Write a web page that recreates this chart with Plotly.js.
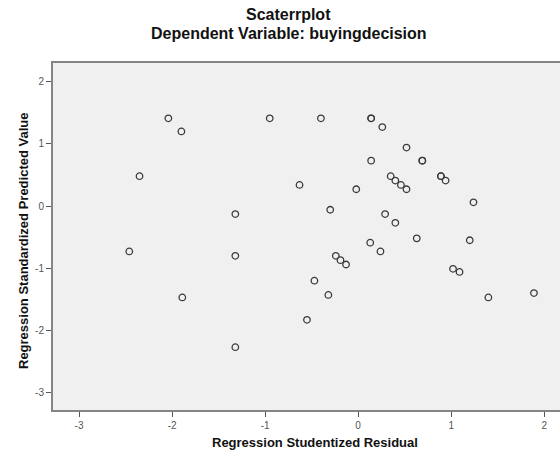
<!DOCTYPE html>
<html>
<head>
<meta charset="utf-8">
<script src="https://cdn.plot.ly/plotly-3.0.1.min.js"></script>
<style>html,body{margin:0;padding:0;background:#fff;}#chart{width:560px;height:454px;}</style>
</head>
<body>
<div id="chart"></div>
<script>
// Regression Studentized Residual (x) and Regression Standardized Predicted Value (y)
var residual = [
  -2.04, -1.90, -0.95, -2.35, -0.63, -1.32, -2.46, -1.32, -1.89, -1.32,
  -0.40, 0.14, 0.14, 0.26, 0.52, 0.14, 0.69, 0.69, 0.35, 0.40,
  0.46, 0.52, 0.89, 0.89, 0.94, -0.02, 1.24, -0.30, 0.29, 0.40,
  0.63, 1.20, 0.13, 0.24, -0.24, -0.19, -0.13, 1.02, 1.09, -0.47,
  -0.32, 1.40, 1.89, -0.55
];
var predicted = [
  1.41, 1.20, 1.41, 0.48, 0.34, -0.13, -0.73, -0.80, -1.47, -2.27,
  1.41, 1.41, 1.41, 1.27, 0.94, 0.73, 0.73, 0.73, 0.48, 0.41,
  0.34, 0.27, 0.48, 0.48, 0.41, 0.27, 0.06, -0.06, -0.13, -0.27,
  -0.52, -0.55, -0.59, -0.73, -0.80, -0.87, -0.94, -1.01, -1.06, -1.20,
  -1.43, -1.47, -1.40, -1.83
];
var xTicks = [-3, -2, -1, 0, 1, 2];
var yTicks = [-3, -2, -1, 0, 1, 2];
var titleLines = ['Scaterrplot', 'Dependent Variable: buyingdecision'];
var xTitle = 'Regression Studentized Residual';
var yTitle = 'Regression Standardized Predicted Value';

var FONT = 'Arial, "Liberation Sans", sans-serif';
var trace = {
  type: 'scatter',
  mode: 'markers',
  x: residual,
  y: predicted,
  marker: {symbol: 'circle-open', size: 6.5, color: '#3a3a3a', line: {width: 1.3, color: '#3a3a3a'}},
  hoverinfo: 'x+y'
};
function ann(text, x, y, size, angle) {
  return {text: '<b>' + text + '</b>', xref: 'paper', yref: 'paper', x: x, y: y,
    xanchor: 'center', yanchor: 'middle', showarrow: false, textangle: angle || 0,
    font: {family: FONT, size: size, color: '#111'}};
}
var layout = {
  width: 560, height: 454,
  margin: {l: 53, r: 0, t: 63, b: 44, pad: 0},
  paper_bgcolor: '#ffffff',
  plot_bgcolor: '#f0f0f0',
  showlegend: false,
  xaxis: {
    range: [-3.28, 2.17],
    tickvals: xTicks,
    ticktext: xTicks.map(String),
    ticks: 'outside', ticklen: 5, tickwidth: 1, tickcolor: '#555',
    showline: true, linecolor: '#858585', linewidth: 2, mirror: true,
    showgrid: false, zeroline: false,
    tickfont: {family: FONT, size: 10, color: '#555'}
  },
  yaxis: {
    range: [-3.28, 2.30],
    tickvals: yTicks,
    ticktext: yTicks.map(String),
    ticks: 'outside', ticklen: 5, tickwidth: 1, tickcolor: '#555',
    showline: true, linecolor: '#858585', linewidth: 2, mirror: false,
    showgrid: false, zeroline: false,
    tickfont: {family: FONT, size: 10, color: '#555'}
  },
  annotations: [
    ann(titleLines[0], 0.465, 1.141, 16),
    ann(titleLines[1], 0.465, 1.086, 16),
    ann(xTitle, 0.517, -0.095, 13),
    ann(yTitle, -0.0592, 0.487, 13, -90)
  ]
};
Plotly.newPlot('chart', [trace], layout, {displayModeBar: false, staticPlot: true});
</script>
</body>
</html>
